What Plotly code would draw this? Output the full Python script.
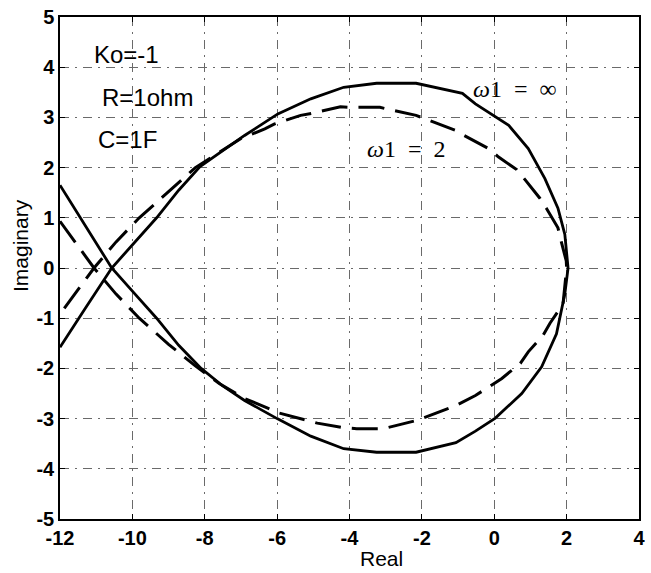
import plotly.graph_objects as go

# Nyquist loci of the loop gain for Ko=-1, R=1 ohm, C=1 F
# omega1 = infinity (solid)
re_inf = [-12.0, -11.3, -10.57, -9.95, -9.33, -8.72, -8.1, -7.5, -6.9, -6.0,
          -5.07, -4.16, -3.25, -2.16, -1.06, -0.52, 0.03, 0.76, 1.31, 1.72,
          1.95, 2.04, 1.95, 1.76, 1.40, 0.94, 0.40, -0.52, -0.88, -2.16,
          -3.25, -4.16, -5.07, -5.98, -6.9, -8.13, -8.72, -9.33, -9.95,
          -10.57, -11.3, -12.0]
im_inf = [1.65, 0.84, 0.0, -0.5, -1.0, -1.54, -2.0, -2.35, -2.64, -3.0,
          -3.35, -3.6, -3.67, -3.67, -3.48, -3.25, -2.99, -2.5, -1.97, -1.31,
          -0.52, 0.0, 0.67, 1.19, 1.78, 2.38, 2.84, 3.27, 3.48, 3.68,
          3.68, 3.6, 3.37, 3.07, 2.64, 2.02, 1.55, 1.0, 0.5,
          0.0, -0.8, -1.58]

# omega1 = 2 (dashed)
re_w2 = [-12.0, -11.06, -10.45, -9.81, -9.0, -8.26, -7.6, -6.9, -6.26, -5.94,
         -5.21, -4.89, -4.16, -3.8, -3.06, -2.16, -1.06, -0.52, 0.21, 0.72,
         0.94, 1.35, 1.54, 1.9, 2.0, 1.99, 1.85, 1.76, 1.44, 1.26, 0.85,
         0.62, 0.12, -0.16, -0.83, -1.06, -2.16, -3.16, -3.98, -4.25, -4.98,
         -5.35, -6.07, -6.34, -7.0, -7.6, -8.26, -9.0, -9.81, -10.45, -11.06,
         -12.0]
im_w2 = [0.93, 0.0, -0.52, -1.0, -1.52, -1.95, -2.3, -2.6, -2.79, -2.89,
         -3.03, -3.09, -3.18, -3.2, -3.2, -3.04, -2.74, -2.54, -2.2, -1.9,
         -1.67, -1.34, -1.1, -0.72, 0.0, 0.14, 0.53, 0.8, 1.19, 1.39, 1.76,
         1.96, 2.21, 2.38, 2.64, 2.74, 3.04, 3.2, 3.2, 3.21, 3.09,
         3.04, 2.87, 2.77, 2.58, 2.3, 2.0, 1.52, 1.0, 0.52, 0.0,
         -0.92]

x_ticks = [-12, -10, -8, -6, -4, -2, 0, 2, 4]
y_ticks = [-5, -4, -3, -2, -1, 0, 1, 2, 3, 4, 5]

sans = "Liberation Sans, Arial, sans-serif"
tick_font = dict(family=sans, size=20, color="black", weight="bold")
title_font = dict(family=sans, size=21, color="black")
note_font = dict(family=sans, size=24, color="black")
serif_font = dict(family="Liberation Serif, Times New Roman, serif", size=24,
                  color="black")

fig = go.Figure()
fig.add_trace(go.Scatter(x=re_inf, y=im_inf, mode="lines",
                         line=dict(color="black", width=2.8),
                         showlegend=False))
fig.add_trace(go.Scatter(x=re_w2, y=im_w2, mode="lines",
                         line=dict(color="black", width=3,
                                   dash="26px,11px"),
                         showlegend=False))

axis_common = dict(
    showline=True, linecolor="black", linewidth=1.5, mirror="ticks",
    ticks="inside", ticklen=5, tickwidth=1.2, tickcolor="black",
    showgrid=True, gridcolor="#6a6a6a", gridwidth=1,
    griddash="9px,6px,2px,6px",
    zeroline=False, tickfont=tick_font,
)

fig.update_xaxes(range=[-12, 4], tickvals=x_ticks,
                 ticktext=[str(v) for v in x_ticks], **axis_common)
fig.update_yaxes(range=[-5, 5], tickvals=y_ticks,
                 ticktext=[str(v) for v in y_ticks], **axis_common)

# page geometry (pixels)
L, R, T, B, W, H = 60, 6, 14, 54, 651, 573
pw, ph = W - L - R, H - T - B

annotations = [
    dict(x=-11.12, y=4.25, text="Ko=-1", font=note_font,
         xanchor="left", yanchor="middle"),
    dict(x=-10.9, y=3.4, text="R=1ohm", font=note_font,
         xanchor="left", yanchor="middle"),
    dict(x=-11.0, y=2.55, text="C=1F", font=note_font,
         xanchor="left", yanchor="middle"),
    dict(x=-0.65, y=3.56, text="<i>ω</i>1  =  ∞", font=serif_font,
         xanchor="left", yanchor="middle"),
    dict(x=-3.58, y=2.37, text="<i>ω</i>1  =  2", font=serif_font,
         xanchor="left", yanchor="middle"),
    # axis titles, positioned from pixel offsets relative to the plot area
    dict(xref="paper", yref="paper", text="Real", font=title_font,
         x=(385 - L) / pw, y=-(559 - (H - B)) / ph,
         xanchor="center", yanchor="middle"),
    dict(xref="paper", yref="paper", text="Imaginary", font=title_font,
         textangle=-90, x=-(L - 20) / pw, y=(H - B - 244) / ph,
         xanchor="center", yanchor="middle"),
]
for a in annotations:
    a.setdefault("xref", "x")
    a.setdefault("yref", "y")
    a["showarrow"] = False

fig.update_layout(
    width=W, height=H,
    margin=dict(l=L, r=R, t=T, b=B),
    plot_bgcolor="white", paper_bgcolor="white",
    annotations=annotations,
)

fig.write_html("out.html")
